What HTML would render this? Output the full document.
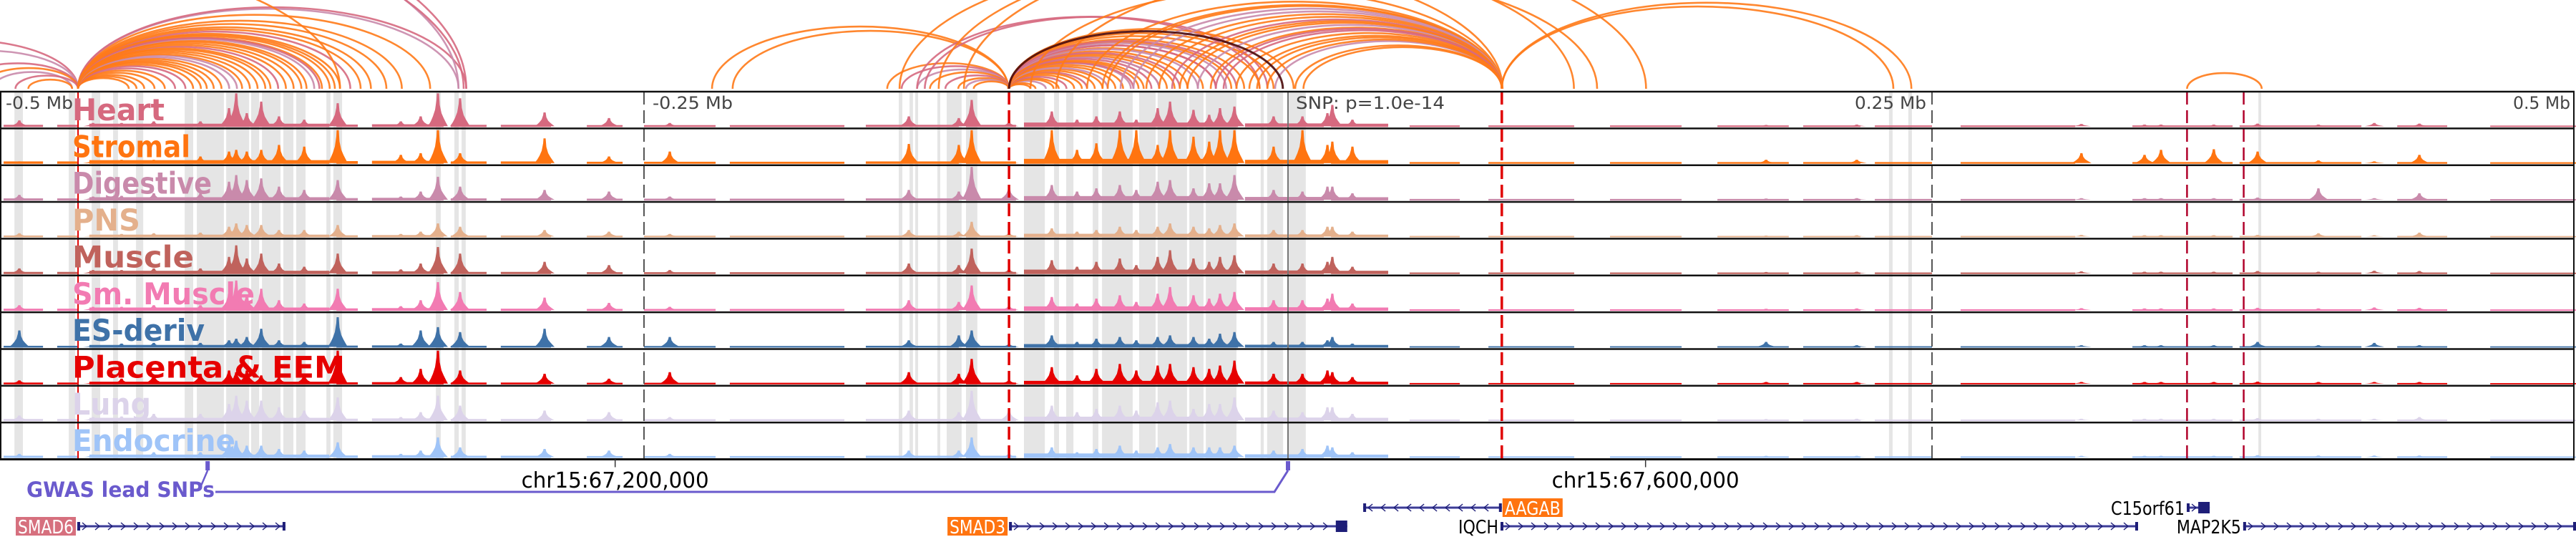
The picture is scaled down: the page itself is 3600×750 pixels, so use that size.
<!DOCTYPE html>
<html><head><meta charset="utf-8"><title>Regulatory tracks</title>
<style>
html,body{margin:0;padding:0;background:#fff;}
svg{display:block;}
text{font-family:"DejaVu Sans","Liberation Sans",sans-serif;}
</style></head>
<body>
<svg id="chart" xmlns="http://www.w3.org/2000/svg" width="3600" height="750" viewBox="0 0 3600 750">
  <defs><clipPath id="arcClip"><rect x="0" y="0" width="3600" height="125"/></clipPath></defs>
  <rect x="0" y="0" width="3600" height="750" fill="#fff"/>
  <g id="stripes"></g>
  <g id="signals"></g>
  <g id="vlines"></g>
  <g id="frames"></g>
  <g id="arcs" clip-path="url(#arcClip)"></g>
  <g id="labels"></g>
  <g id="axis"></g>
  <g id="gwas"></g>
  <g id="genes"></g>
</svg>
<script>
// ---------- data (genomic offsets in kb relative to lead SNP) ----------
const tissues = ['Heart','Stromal','Digestive','PNS','Muscle','Sm. Muscle','ES-deriv','Placenta & EEM','Lung','Endocrine'];
const tissueColors = ['#d6697f','#ff7410','#c98aab','#e4b08c','#c0625c','#f27bb2','#3f72a8','#e60000','#dcd3ea','#9fc4f8'];
const peakKb = [-492.5,-463.9,-452.8,-440.3,-422.2,-411.1,-408.3,-404.2,-398.6,-391.7,-381.9,-368.9,-344.4,-336.7,-330,-321.4,-288.6,-263.6,-240,-147.2,-127.8,-122.8,-108.3,-91.7,-81.9,-74.4,-65.3,-58.9,-50.6,-45.8,-36.7,-30.6,-26.4,-20.8,-5.6,5.6,15.3,17.2,25,185.6,220.8,308,332.5,338.9,359.4,376.4,400,421.7,439.2];
const heartPeaks = [.18,.1,.1,.15,.15,.55,1,.4,.75,.3,.2,.7,.15,.3,1,.85,.42,.25,.1,.3,.25,.8,.12,.45,.2,.3,.45,.2,.55,.75,.5,.35,.55,.6,.3,.3,.4,.65,.2,.04,.05,.07,.05,.05,.05,.08,.05,.1,.08];
const stromalPeaks = [.05,.08,.1,.1,.2,.35,.4,.35,.4,.55,.5,1,.25,.3,1,.3,.75,.2,.35,.58,.55,1,.05,1,.4,.6,1,1,.55,1,.8,.65,1,1,.5,1,.55,.65,.5,.1,.1,.3,.25,.4,.42,.35,.08,.05,.25];
const digestivePeaks = [.15,.1,.12,.2,.2,.55,.75,.6,.65,.4,.3,.6,.1,.25,.7,.4,.3,.25,.1,.3,.25,1,.35,.45,.25,.35,.45,.3,.55,.6,.35,.5,.5,.75,.3,.25,.4,.4,.2,.04,.05,.05,.05,.05,.05,.07,.35,.05,.2];
const pnsPeaks = [.1,.05,.08,.1,.12,.3,.4,.35,.35,.2,.2,.35,.08,.15,.4,.3,.2,.15,.08,.2,.15,.45,.1,.25,.15,.2,.3,.2,.3,.4,.3,.25,.35,.4,.2,.2,.3,.3,.15,.03,.04,.05,.04,.04,.04,.05,.1,.04,.12];
const musclePeaks = [.15,.1,.1,.15,.15,.5,.85,.45,.6,.3,.2,.6,.12,.3,.8,.6,.35,.25,.1,.3,.25,.75,.12,.4,.2,.35,.45,.25,.5,.7,.45,.35,.5,.55,.3,.3,.35,.5,.2,.04,.05,.06,.05,.05,.05,.07,.05,.08,.07];
const smMusclePeaks = [.15,.1,.1,.15,.15,.5,.9,.45,.65,.3,.2,.65,.12,.3,.85,.55,.38,.22,.1,.3,.25,.75,.12,.4,.2,.35,.45,.25,.5,.7,.45,.35,.5,.55,.3,.3,.35,.5,.2,.04,.05,.06,.05,.05,.05,.07,.05,.08,.07];
const esDerivPeaks = [.5,.05,.1,.12,.12,.2,.25,.3,.55,.2,.15,.9,.1,.5,.6,.45,.55,.3,.3,.2,.35,.5,.08,.35,.15,.25,.3,.2,.3,.35,.3,.25,.4,.45,.15,.15,.2,.3,.1,.15,.05,.05,.05,.05,.05,.15,.05,.12,.05];
const placentaPeaks = [.1,.05,.15,.25,.3,.4,.35,.4,.25,.2,.25,1,.2,.45,1,.4,.3,.15,.35,.35,.3,.75,.1,.5,.25,.45,.6,.4,.55,.6,.5,.45,.55,.7,.3,.3,.4,.35,.2,.05,.05,.05,.05,.05,.05,.06,.05,.05,.05];
const lungPeaks = [.15,.1,.12,.2,.2,.5,.75,.6,.6,.4,.3,.7,.1,.25,.75,.45,.3,.25,.1,.3,.25,.9,.3,.45,.25,.35,.45,.3,.55,.6,.35,.5,.5,.7,.3,.25,.4,.4,.2,.04,.05,.05,.05,.05,.05,.07,.05,.05,.1];
const endocrinePeaks = [.1,.08,.08,.15,.15,.45,.5,.35,.35,.25,.2,.45,.1,.2,.6,.3,.25,.2,.1,.2,.2,.6,.1,.3,.15,.25,.35,.2,.3,.4,.3,.3,.3,.35,.2,.25,.35,.3,.15,.04,.04,.04,.04,.04,.04,.06,.05,.05,.05];
const trackPeaks = [heartPeaks,stromalPeaks,digestivePeaks,pnsPeaks,musclePeaks,smMusclePeaks,esDerivPeaks,placentaPeaks,lungPeaks,endocrinePeaks];
const openStartKb = [-498.6,-477.8,-465.3,-369.4,-355.6,-325,-305.6,-272.2,-250,-216.7,-163.9,-125,-102.5,-16.7,16.7,47.2,77.8,125,166.7,200,227.8,261.1,327.8,369.4,430.6,466.7];
const openEndKb   = [-483.3,-470,-372.2,-361.1,-327.8,-311.1,-286.1,-258.3,-222.2,-172.2,-127.8,-105.6,-19.4,13.9,38.9,66.7,111.1,152.8,194.4,222.2,250,305.6,366.7,416.7,450,500];
const openDensity = [.5,.5,.9,.6,.7,.5,.5,.4,.4,.4,.5,.5,1.3,1.0,.9,.3,.3,.3,.3,.3,.3,.3,.3,.3,.3,.25];
const trackBackground = [4,4.5,4,3,4,4,3,3,4,4];
const stripeStartKb = [-494.4,-473.3,-464.4,-456.1,-447.2,-428.3,-423.6,-412.2,-402.5,-398.3,-390,-385,-373.3,-370.6,-330.8,-323.6,-320.8,-151.1,-146.9,-144.7,-136.1,-132.5,-125,-102.5,-90.8,-86.1,-75.8,-72.2,-57.8,-50.6,-38.3,-31.9,-10.6,-8.1,0,233.3,240.8,376.7];
const stripeEndKb   = [-491.1,-470.8,-461.1,-454.2,-444.4,-425,-413.1,-403.3,-399.4,-391.1,-386.1,-381.4,-371.7,-367.2,-328.9,-321.9,-319.2,-149.7,-145.6,-143.6,-135,-126.7,-120.6,-94.4,-88.9,-83.3,-73.6,-60.3,-51.4,-39.2,-32.8,-20,-9.4,-1.9,6.9,234.7,242.2,377.8];
// loops: 0 heart, 1 stromal, 2 digestive, 3 dark
const arcStartKb = [-560,-540,-516.7,-508,-503,-494,-489,
 -469.7,-469.7,-469.7,-469.7,-469.7,-469.7,-469.7,-469.7,-469.7,-469.7,-469.7,-469.7,-469.7,-469.7,-469.7,-469.7,-469.7,-469.7,-469.7,-469.7,-469.7,-469.7,
 -469.7,-469.7,-469.7,-469.7,-469.7,-469.7,-469.7,-469.7,-469.7,-469.7,-469.7,-469.7,-469.7,-469.7,-469.7,-469.7,
 -694,-667,-611,-640,
 -223.6,-215.6,-155.6,-150,-144,-139,-133,-128,-125,-122,
 -144,-141,-135.6,-150.8,-125.8,
 -108.3,-108.3,-108.3,-108.3,-108.3,-108.3,-108.3,-108.3,-108.3,-108.3,-108.3,-108.3,-108.3,-108.3,-108.3,-108.3,-108.3,-108.3,-108.3,
 -108.3,-108.3,-108.3,-108.3,-108.3,-108.3,-108.3,
 -108.3,-108.3,-108.3,-108.3,-108.3,-108.3,-108.3,-108.3,-108.3,-108.3,
 -78,-72,-60,-50,-45,-39,-35,-30,-25,-20,-12,-5,2.8,6,-100,-90,
 -70,-65,-55,-42,-28,-15,-8,
 83,83,349,-108.3];
const arcEndKb = [-469.7,-469.7,-469.7,-469.7,-472,-469.7,-472,
 -444,-436,-428,-419.7,-414,-408,-403,-397,-392,-386,-383,-381,-378,-375,-372,-368,-364,-356,-344,-333,-322,-319,
 -450,-447,-440,-432,-425,-422,-417,-411,-406,-400,-395,-389,-376,-370,-360,-350,
 -319,-322,-368,-320,
 -108.6,-108.6,-108.3,-108.3,-108.3,-108.3,-108.3,-108.3,-108.3,-108.3,
 -11,-8,111,83.3,139,
 -100,-94,-89,-83,-78,-72,-67,-61,-56,-50,-44,-39,-33,-28,-22,-17,-11,-5.6,2.2,
 -60,-50,-42,-35,-28,-24,-20,
 -98,-91,-86,-80,-75,-70,-64,-58,-53,-47,
 83,83,83,83,83,83,83,83,83,83,83,83,83,83,83,120,
 83,83,83,83,83,83,83,
 235,242,378,-2];
const arcTissue = [0,2,0,1,2,0,1,
 1,1,0,1,1,2,1,1,0,1,1,1,2,1,1,1,0,1,1,1,2,0,
 1,1,1,0,1,1,1,2,1,1,1,1,0,1,1,1,
 0,2,1,0,
 1,1,1,0,2,1,0,1,2,1,
 0,0,1,1,1,
 1,2,1,1,0,1,1,2,1,0,1,1,1,0,1,1,1,1,1,
 0,2,0,2,0,2,0,
 1,1,0,1,1,2,1,1,0,1,
 1,1,2,1,0,1,2,1,0,1,1,2,1,1,1,1,
 1,2,1,1,0,1,1,
 1,1,1,3];
const arcColors = ['#d6697f','#ff7a18','#c98aab','#4a0a0a'];
const tickKb = [-500,-250,0,250,500];
const tickLabels = ['-0.5 Mb','-0.25 Mb','SNP: p=1.0e-14','0.25 Mb','0.5 Mb'];
const gwasSnpKb = [-419.4,0];
const chromTickKb = [-261.2,138.8];
const chromTickLabels = ['chr15:67,200,000','chr15:67,600,000'];
const geneNames = ['SMAD6','SMAD3','AAGAB','IQCH','C15orf61','MAP2K5'];
const geneStartKb = [-470,-108.3,29.2,82.5,348.9,370.8];
const geneEndKb = [-389.2,23,83,330,357.8,500];
const geneStrand = [1,1,-1,1,1,1];
const geneRow = [1,1,0,1,0,1];
const geneHighlight = ['#d6707e','#ff7410','#ff7410',null,null,null];

// ---------- scales ----------
const NS='http://www.w3.org/2000/svg';
function X(kb){return 1800+kb*3.6;}
const trackTop=128, trackH=51.35, nTracks=10, peakMax=46;
function mk(tag,attrs,parent){const e=document.createElementNS(NS,tag);for(const k in attrs)e.setAttribute(k,attrs[k]);parent.appendChild(e);return e;}
const G=id=>document.getElementById(id);
const bottom=trackTop+trackH*nTracks;

stripeStartKb.forEach((s,i)=>{
  const r=mk('rect',{x:X(s),y:trackTop,width:Math.max(2,X(stripeEndKb[i])-X(s)),height:bottom-trackTop,fill:'#e5e5e5'},G('stripes'));
  
  
});

for(let t=0;t<nTracks;t++){
  const g=mk('g',{},G('signals'));
  
  
  const base=trackTop+trackH*(t+1)-3;
  const col=tissueColors[t];
  openStartKb.forEach((s,j)=>{
    const h=trackBackground[t]*openDensity[j];
    const r=mk('rect',{x:X(s),y:base-h,width:X(openEndKb[j])-X(s),height:h+1,fill:col},g);
    
    
  });
  peakKb.forEach((p,j)=>{
    const v=trackPeaks[t][j]||0; if(v<=0) return;
    const h=Math.min(1,v)*peakMax, x=X(p);
    const pts=[[x-14,base],[x-10,base-h*0.15],[x-7,base-h*0.3],[x-4,base-h*0.5],[x-2,base-h*0.8],[x-1.5,base-h],[x+1.5,base-h],[x+2.5,base-h*0.65],[x+5,base-h*0.4],[x+8,base-h*0.25],[x+11,base-h*0.12],[x+14,base]];
    const pg=mk('polygon',{points:pts.map(q=>q.join(',')).join(' '),fill:col},g);
    
    
  });
}

function vline(x,stroke,w,dash,name){
  const l=mk('line',{x1:x,x2:x,y1:trackTop,y2:bottom,stroke:stroke,'stroke-width':w},G('vlines'));
  if(dash) l.setAttribute('stroke-dasharray',dash);
  
  
}
vline(X(-469.7),'#e00000',2,null,'anchor-line');
vline(X(-108.3),'#e00000',3.5,'18,8','enhancer-boundary-left');
vline(X(83),'#e00000',3.5,'18,8','enhancer-boundary-right');
vline(X(-250),'#555',2,'18,8','tick-line-minus-250kb');
vline(X(250),'#555',2,'18,8','tick-line-plus-250kb');
vline(X(0),'#777',2,null,'snp-line');
vline(X(349),'#b0002a',2.5,'18,8','marker-line-a');
vline(X(371),'#b0002a',2.5,'18,8','marker-line-b');

for(let t=0;t<=nTracks;t++){
  const y=trackTop+trackH*t;
  const l=mk('line',{x1:0,x2:3598,y1:y,y2:y,stroke:'#111','stroke-width':t===nTracks?3:2.5},G('frames'));
  
  
}
[1,3597].forEach(x=>{
  const l=mk('line',{x1:x,x2:x,y1:trackTop,y2:bottom,stroke:'#111','stroke-width':2},G('frames'));
  
  
});

const baseY=124;
arcStartKb.forEach((s,i)=>{
  const x1=X(Math.min(s,arcEndKb[i])), x2=X(Math.max(s,arcEndKb[i]));
  const rx=(x2-x1)/2, ry=0.21*(x2-x1);
  const p=mk('path',{d:`M${x1},${baseY} A${rx},${ry} 0 0 1 ${x2},${baseY}`,fill:'none',stroke:arcColors[arcTissue[i]],'stroke-width':arcTissue[i]===3?3:2.6,'stroke-opacity':0.9},G('arcs'));
  
  
});

const labelWidths=[129,165,195,95,170,255,185,381,110,228];
tissues.forEach((n,t)=>{
  const tx=mk('text',{x:101,y:trackTop+trackH*t+40,'font-size':42,'font-weight':'bold',fill:tissueColors[t],textLength:labelWidths[t],lengthAdjust:'spacingAndGlyphs'},G('labels'));
  tx.textContent=n;
  
  
});

tickKb.forEach((k,i)=>{
  let x=X(k), anchor='start';
  if(i===0) x=8;
  else if(i===1) x=X(k)+12;
  else if(i===2) x=X(k)+11;
  else {x=X(k)-8; anchor='end';}
  const widths=[94,112,208,100,80];
  const tx=mk('text',{x:x,y:152,'font-size':24,fill:'#444','text-anchor':anchor,textLength:widths[i],lengthAdjust:'spacingAndGlyphs'},G('axis'));
  tx.textContent=tickLabels[i];
  
  
});
chromTickKb.forEach((k,i)=>{
  const x=X(k);
  const l=mk('line',{x1:x,x2:x,y1:bottom,y2:bottom+11,stroke:'#333','stroke-width':1.5},G('axis'));
  
  
  const tx=mk('text',{x:x,y:681,'font-size':30,fill:'#000','text-anchor':'middle',textLength:262,lengthAdjust:'spacingAndGlyphs'},G('axis'));
  tx.textContent=chromTickLabels[i];
  
  
});

const gcol='#6a5acd';
const gl=mk('text',{x:37,y:694,'font-size':29,'font-weight':'bold',fill:gcol,textLength:263,lengthAdjust:'spacingAndGlyphs'},G('gwas'));
gl.textContent='GWAS lead SNPs';


gwasSnpKb.forEach((k,i)=>{
  const x=X(k);
  const r=mk('rect',{x:x-3,y:644,width:6,height:13,fill:gcol},G('gwas'));
  
  
});
const gp1=mk('polyline',{points:`${X(gwasSnpKb[0])},657 ${X(gwasSnpKb[0])-9},678`,fill:'none',stroke:gcol,'stroke-width':2.5},G('gwas'));


const gp2=mk('polyline',{points:`301,687 ${X(gwasSnpKb[1])-19},687 ${X(gwasSnpKb[1])},657`,fill:'none',stroke:gcol,'stroke-width':3},G('gwas'));



const rowY=[709,735];
const labelW={SMAD6:78,SMAD3:78,AAGAB:78,IQCH:56,C15orf61:103,MAP2K5:90};
geneNames.forEach((n,i)=>{
  const g=mk('g',{},G('genes'));
  
  
  const y=rowY[geneRow[i]], x1=X(geneStartKb[i]), x2=Math.min(3600,X(geneEndKb[i]));
  mk('line',{x1:x1,x2:x2,y1:y,y2:y,stroke:'#9a9ad8','stroke-width':4},g);
  mk('line',{x1:x1,x2:x2,y1:y,y2:y,stroke:'#1e1e78','stroke-width':1.6},g);
  for(let cx=x1+10;cx<x2-6;cx+=18){
    const d=geneStrand[i]>0?`M${cx-3},${y-5} L${cx+3},${y} L${cx-3},${y+5}`:`M${cx+3},${y-5} L${cx-3},${y} L${cx+3},${y+5}`;
    mk('path',{d:d,fill:'none',stroke:'#1e1e78','stroke-width':1.4},g);
  }
  mk('rect',{x:x1,y:y-6,width:4,height:12,fill:'#1e1e78'},g);
  if(X(geneEndKb[i])<=3600){
    const big=(n==='SMAD3'||n==='C15orf61');
    mk('rect',{x:x2-(big?16:4),y:y-(big?8:6),width:big?16:4,height:big?16:12,fill:'#1e1e78'},g);
  }
  const w=labelW[n];
  let tx;
  if(geneHighlight[i]){
    const right=geneStrand[i]<0;
    const bx=right?x2+1:x1-86;
    mk('rect',{x:bx,y:y-13,width:84,height:26,fill:geneHighlight[i]},g);
    tx=mk('text',{x:bx+42,y:y+10,'font-size':26,fill:'#fff','text-anchor':'middle',textLength:w,lengthAdjust:'spacingAndGlyphs'},g);
  } else {
    tx=mk('text',{x:x1-3,y:y+10,'font-size':26,fill:'#000','text-anchor':'end',textLength:w,lengthAdjust:'spacingAndGlyphs'},g);
  }
  tx.textContent=n;
  
  
});
</script>
</body></html>
